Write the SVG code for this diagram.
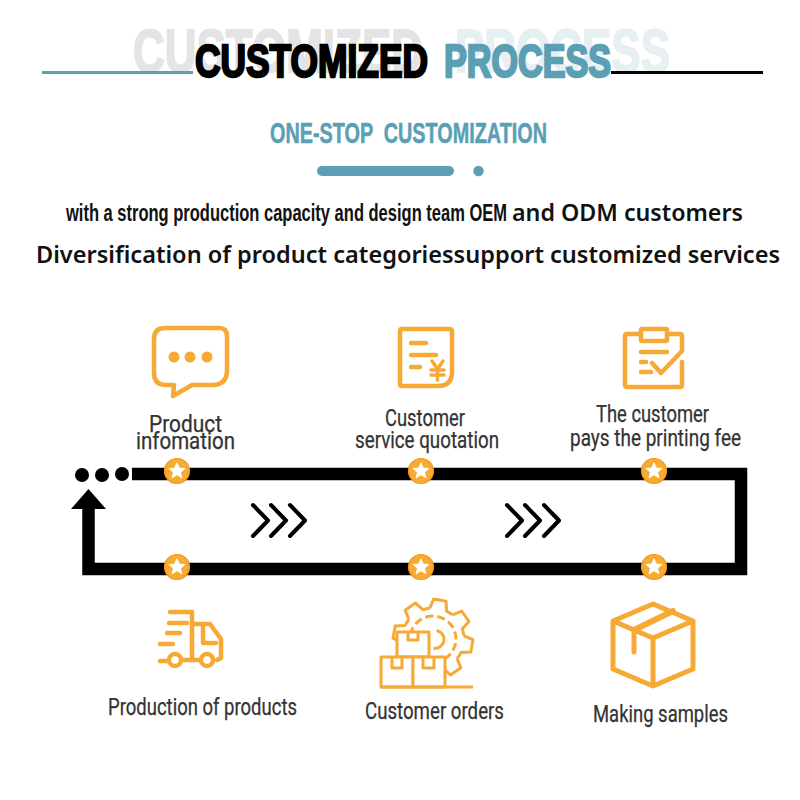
<svg xmlns="http://www.w3.org/2000/svg" width="800" height="800" viewBox="0 0 800 800">
<style>
.t{font-family:"Liberation Sans",Arial,sans-serif;font-weight:700}
.b{font-family:"Noto Sans","Open Sans",sans-serif;font-weight:600;fill:#111}
.l{font-family:Roboto,"Liberation Sans",sans-serif;font-size:23px;fill:#333;stroke:#333;stroke-width:.25}
.i{fill:none;stroke:#f7a936;stroke-width:4.500;stroke-linecap:round;stroke-linejoin:round}
.g{fill:none;stroke:#f7a936;stroke-width:3;stroke-linejoin:round}
.c{fill:none;stroke:#000;stroke-width:4;stroke-linecap:round;stroke-linejoin:round}
</style>
<defs>
<g id="star"><circle r="12.500" fill="#f9ab2e" stroke="#e9981f" stroke-width="1.200"/><path d="M0,-8 2.100,-2.900 7.600,-2.500 3.400,1.100 4.700,6.500 0,3.600 -4.700,6.500 -3.400,1.100 -7.600,-2.500 -2.100,-2.900Z" fill="#fff" stroke="#fff" stroke-width="1.200" stroke-linejoin="round"/></g>
<path id="chev" d="M0,0 15,15.500 0,31"/>
<path id="tooth" d="M29.800,-8.500 L39.500,-6.300 L39.500,6.300 L29.800,8.500 A31,31 0 0 1 27.100,15"/>
</defs>

<g id="title">
<text class="t" x="133" y="72" font-size="62" fill="#e4e4e4" stroke="#e4e4e4" stroke-width="2" textLength="290" lengthAdjust="spacingAndGlyphs">CUSTOMIZED</text>
<text class="t" x="455" y="72" font-size="62" fill="#e6eff2" stroke="#e6eff2" stroke-width="2" textLength="215" lengthAdjust="spacingAndGlyphs">PROCESS</text>
<rect x="42" y="71" width="151" height="3" fill="#5b9fb5"/>
<rect x="611" y="71" width="152" height="3" fill="#000"/>
<text class="t" x="195" y="77" font-size="46" fill="#000" stroke="#000" stroke-width="2.400" textLength="233" lengthAdjust="spacingAndGlyphs">CUSTOMIZED</text>
<text class="t" x="444" y="77" font-size="46" fill="#5b9fb5" stroke="#5b9fb5" stroke-width="2.400" textLength="167" lengthAdjust="spacingAndGlyphs">PROCESS</text>
</g>
<g id="subtitle">
<text class="t" x="270" y="142.500" font-size="30" fill="#5b9fb5" stroke="#5b9fb5" stroke-width=".6" textLength="277" lengthAdjust="spacingAndGlyphs" xml:space="preserve">ONE-STOP  CUSTOMIZATION</text>
<rect x="317" y="166" width="137" height="10" rx="5" fill="#5b9fb5"/>
<circle cx="478.500" cy="171" r="5.200" fill="#5b9fb5"/>
</g>
<g id="intro">
<text class="t" x="66" y="221" font-size="23" fill="#111" textLength="441" lengthAdjust="spacingAndGlyphs">with a strong production capacity and design team OEM</text>
<text class="b" x="512" y="221" font-size="23" textLength="231" lengthAdjust="spacingAndGlyphs">and ODM customers</text>
<text class="b" x="36" y="263" font-size="24" textLength="744" lengthAdjust="spacingAndGlyphs">Diversification of product categoriessupport customized services</text>
</g>

<g id="connectors">
<path d="M132,474H741V569H88.500V505" fill="none" stroke="#000" stroke-width="12.500"/>
<path d="M88.500,489 106,509H71Z" fill="#000"/>
<circle cx="82" cy="475" r="7"/><circle cx="102" cy="475" r="7"/><circle cx="122" cy="474" r="7"/>
<g class="c" transform="translate(253,505)"><use href="#chev"/><use href="#chev" x="18"/><use href="#chev" x="37"/></g>
<g class="c" transform="translate(507,505)"><use href="#chev"/><use href="#chev" x="18"/><use href="#chev" x="37"/></g>
<use href="#star" x="177" y="471"/><use href="#star" x="421" y="471"/><use href="#star" x="654" y="471"/>
<use href="#star" x="177" y="567"/><use href="#star" x="421" y="567"/><use href="#star" x="654" y="567"/>
</g>

<g id="node-info">
<path class="i" d="M165,328H219Q227,328 227,336V370Q227,385 212,385H192L173,396 174,385H166Q154,385 154,373V339Q154,328 165,328Z"/>
<circle cx="174" cy="357" r="5.500" fill="#f7a936"/><circle cx="190" cy="357" r="5.500" fill="#f7a936"/><circle cx="207" cy="357" r="5.500" fill="#f7a936"/>
<text class="l" x="149" y="432" textLength="73" lengthAdjust="spacingAndGlyphs">Product</text>
<text class="l" x="136" y="449" textLength="99" lengthAdjust="spacingAndGlyphs">infomation</text>
</g>
<g id="node-quote">
<path class="i" d="M402,329H449Q452,329 452,332V372Q452,386 438,386H402Q400,386 400,384V331Q400,329 402,329Z"/>
<path class="i" d="M411,343H426M411,355H436M411,367H420"/>
<path class="i" style="stroke-width:3.500" d="M432,361 437.500,369 443,361M437.500,369V380M431,370H444M431,375H444"/>
<text class="l" x="385" y="426" textLength="80" lengthAdjust="spacingAndGlyphs">Customer</text>
<text class="l" x="355" y="448" textLength="144" lengthAdjust="spacingAndGlyphs">service quotation</text>
</g>
<g id="node-fee">
<path class="i" d="M640,334H627Q625,334 625,336V385Q625,387 627,387H680Q682,387 682,385V362M682,350V336Q682,334 680,334H667"/>
<rect class="i" x="641" y="329" width="26" height="12" rx="1"/>
<path class="i" d="M641,352H667M641,362H646M641,372H651M652,363 661,373 682,351"/>
<text class="l" x="596" y="422" textLength="113" lengthAdjust="spacingAndGlyphs">The customer</text>
<text class="l" x="570" y="446" textLength="171" lengthAdjust="spacingAndGlyphs">pays the printing fee</text>
</g>
<g id="node-production">
<path class="i" d="M170,612H192V658M195,624H210L221,639V658L217,660M203,627V643H216"/>
<path class="i" d="M169,623H187M167,633H180M160,644H173M160,661H168M183,660H199"/>
<circle class="i" cx="175" cy="660" r="6"/><circle class="i" cx="207" cy="660" r="6"/>
<text class="l" x="108" y="715" textLength="189" lengthAdjust="spacingAndGlyphs">Production of products</text>
</g>
<g id="node-orders">
<g class="g" transform="translate(433,639) rotate(10)">
<use href="#tooth"/><use href="#tooth" transform="rotate(45)"/><use href="#tooth" transform="rotate(90)"/><use href="#tooth" transform="rotate(135)"/><use href="#tooth" transform="rotate(180)"/><use href="#tooth" transform="rotate(225)"/><use href="#tooth" transform="rotate(270)"/><use href="#tooth" transform="rotate(315)"/>
<circle r="23" stroke-dasharray="8 4"/>
<path d="M2,-9A9,9 0 0 1 2,9"/>
</g>
<g class="g" style="fill:#fff">
<rect x="397" y="632" width="32" height="25"/>
<rect x="381" y="657" width="32" height="30"/>
<rect x="413" y="657" width="32" height="30"/>
</g>
<path class="g" d="M408,632V640H418V632M392,657V668H402V657M423,657V668H434V657M381,687H473"/>
<text class="l" x="365" y="719" textLength="139" lengthAdjust="spacingAndGlyphs">Customer orders</text>
</g>
<g id="node-samples">
<path class="i" style="stroke-width:5" d="M653,604 693,621V669L653,686 613,669V621ZM613,621 653,638 693,621M653,638V686M634,630V652"/>
<path class="i" style="stroke-width:6" d="M673,611 634,630"/>
<text class="l" x="593" y="722" textLength="135" lengthAdjust="spacingAndGlyphs">Making samples</text>
</g>
</svg>
